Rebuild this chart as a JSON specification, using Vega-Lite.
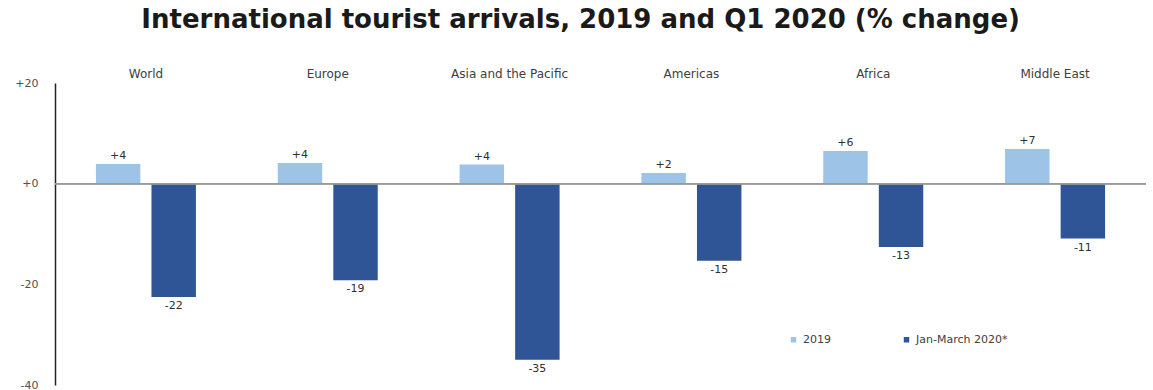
{
  "$schema": "https://vega.github.io/schema/vega-lite/v6.json",
  "width": 1153,
  "height": 390,
  "autosize": {"type": "fit", "contains": "padding"},
  "padding": {"left": 14, "top": 7, "right": 6, "bottom": 0},
  "background": "white",
  "title": {
    "text": "International tourist arrivals, 2019 and Q1 2020 (% change)",
    "font": "DejaVu Sans",
    "fontSize": 26,
    "fontWeight": "bold",
    "color": "#1a1a1a",
    "anchor": "middle",
    "frame": "bounds",
    "offset": 34
  },
  "config": {
    "view": {"stroke": null},
    "font": "DejaVu Sans"
  },
  "data": {
    "values": [
      {"region": "World", "series": "2019", "value": 3.9, "label": "+4"},
      {"region": "World", "series": "Jan-March 2020*", "value": -22.5, "label": "-22"},
      {"region": "Europe", "series": "2019", "value": 4.1, "label": "+4"},
      {"region": "Europe", "series": "Jan-March 2020*", "value": -19.2, "label": "-19"},
      {"region": "Asia and the Pacific", "series": "2019", "value": 3.8, "label": "+4"},
      {"region": "Asia and the Pacific", "series": "Jan-March 2020*", "value": -35.0, "label": "-35"},
      {"region": "Americas", "series": "2019", "value": 2.1, "label": "+2"},
      {"region": "Americas", "series": "Jan-March 2020*", "value": -15.3, "label": "-15"},
      {"region": "Africa", "series": "2019", "value": 6.5, "label": "+6"},
      {"region": "Africa", "series": "Jan-March 2020*", "value": -12.6, "label": "-13"},
      {"region": "Middle East", "series": "2019", "value": 6.9, "label": "+7"},
      {"region": "Middle East", "series": "Jan-March 2020*", "value": -10.9, "label": "-11"}
    ]
  },
  "encoding": {
    "x": {
      "field": "region",
      "type": "nominal",
      "sort": null,
      "scale": {"paddingInner": 0.45, "paddingOuter": 0.225},
      "axis": {
        "orient": "top",
        "title": null,
        "domain": false,
        "ticks": false,
        "labelAngle": 0,
        "labelPadding": 3,
        "labelFontSize": 12,
        "labelColor": "#404040"
      }
    },
    "xOffset": {
      "field": "series",
      "type": "nominal",
      "scale": {"paddingInner": 0.2, "paddingOuter": 0}
    }
  },
  "layer": [
    {
      "mark": {"type": "bar"},
      "encoding": {
        "y": {
          "field": "value",
          "type": "quantitative",
          "scale": {"domain": [-40, 20], "nice": false},
          "axis": {
            "title": null,
            "values": [-40, -20, 0, 20],
            "labelExpr": "datum.value > 0 ? '+' + datum.value : (datum.value == 0 ? '+0' : '' + datum.value)",
            "grid": false,
            "ticks": false,
            "domainColor": "#222222",
            "domainWidth": 1.5,
            "labelPadding": 17,
            "labelFontSize": 11,
            "labelColor": "#505050"
          }
        },
        "color": {
          "field": "series",
          "type": "nominal",
          "scale": {"domain": ["2019", "Jan-March 2020*"], "range": ["#9DC3E6", "#2F5597"]},
          "legend": {
            "title": null,
            "orient": "none",
            "direction": "horizontal",
            "legendX": 733,
            "legendY": 251,
            "symbolType": "square",
            "symbolSize": 30,
            "labelFontSize": 11,
            "labelColor": "#404040",
            "columnPadding": 70
          }
        }
      }
    },
    {
      "mark": {"type": "rule", "color": "#9a9a9a", "strokeWidth": 1},
      "encoding": {
        "x": null,
        "xOffset": null,
        "y": {"datum": 0, "type": "quantitative"}
      }
    },
    {
      "transform": [{"filter": "datum.value >= 0"}],
      "mark": {"type": "text", "baseline": "bottom", "dy": -3, "fontSize": 11, "color": "#303030"},
      "encoding": {
        "y": {"field": "value", "type": "quantitative"},
        "text": {"field": "label"}
      }
    },
    {
      "transform": [{"filter": "datum.value < 0"}],
      "mark": {"type": "text", "baseline": "top", "dy": 3, "fontSize": 11, "color": "#303030"},
      "encoding": {
        "y": {"field": "value", "type": "quantitative"},
        "text": {"field": "label"}
      }
    }
  ]
}
